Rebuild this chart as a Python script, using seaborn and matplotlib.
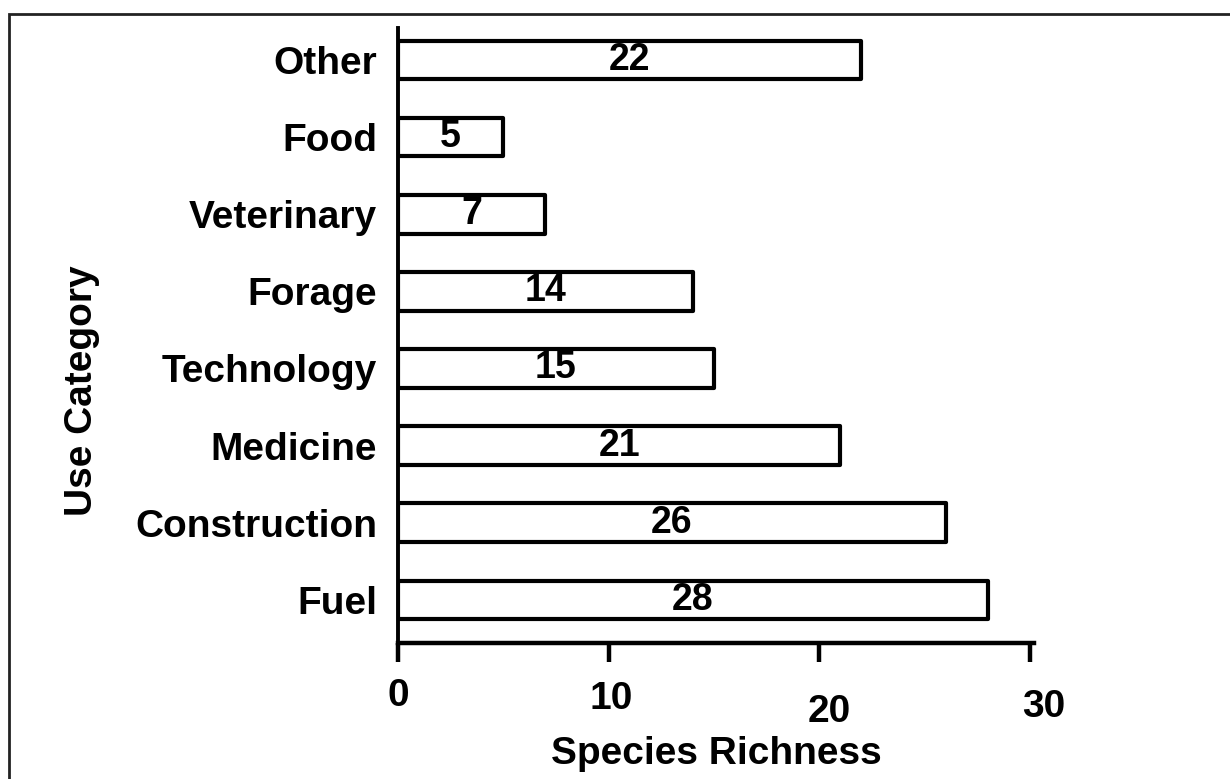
import pandas as pd
import seaborn as sns
import matplotlib.pyplot as plt
from matplotlib.patches import Rectangle
from matplotlib.transforms import ScaledTranslation

# data (top to bottom as in the chart)
categories = ["Other", "Food", "Veterinary", "Forage", "Technology", "Medicine", "Construction", "Fuel"]
species_richness = [22, 5, 7, 14, 15, 21, 26, 28]
x_ticks = [0, 10, 20, 30]
x_tick_labels = ["0", "10", "20", "30"]

df = pd.DataFrame({"Use Category": categories, "Species Richness": species_richness})

sns.set_style("ticks")
plt.rcParams["font.family"] = ["Liberation Sans", "DejaVu Sans"]
plt.rcParams["font.weight"] = "bold"
for key in ["text.color", "axes.labelcolor", "xtick.color", "ytick.color", "axes.edgecolor"]:
    plt.rcParams[key] = "black"

fig = plt.figure(figsize=(12.3, 7.79), dpi=100)
ax = fig.add_axes([398 / 1230, 1 - 643 / 779, (1034 - 398) / 1230, (643 - 28) / 779])

sns.barplot(
    data=df, x="Species Richness", y="Use Category", order=categories,
    color="white", edgecolor="black", linewidth=3, width=0.5, ax=ax,
)
for bar in ax.patches:
    bar.set_joinstyle("round")

# value labels inside bars
ax.bar_label(ax.containers[0], labels=[str(v) for v in species_richness],
             label_type="center", fontsize=27, fontweight="bold")

ax.set_xlim(0, 30.2)
ax.set_ylim(7.56, -0.415)
ax.set_xticks(x_ticks)
ax.set_xticklabels(x_tick_labels, fontsize=28, fontweight="bold")
ax.tick_params(axis="x", length=14, width=3.2, pad=11)
ax.tick_params(axis="y", length=0, pad=15, labelsize=28)
for lab in ax.get_yticklabels():
    lab.set_fontweight("bold")

# the staggered tick label positions of the original (pixels)
nudges = [(0, 0), (3, -3), (10, -16), (14, -11)]
for lab, (dx, dy) in zip(ax.get_xticklabels(), nudges):
    lab.set_transform(lab.get_transform() + ScaledTranslation(dx / 100, dy / 100, fig.dpi_scale_trans))

ax.set_xlabel("Species Richness", fontsize=28, fontweight="bold", va="top")
ax.xaxis.set_label_coords(0.5, -0.152)
ax.set_ylabel("Use Category", fontsize=28, fontweight="bold")
ax.yaxis.set_label_coords(-0.469, 0.41)

for side in ["top", "right"]:
    ax.spines[side].set_visible(False)
ax.spines["left"].set_linewidth(2.8)
ax.spines["bottom"].set_linewidth(3.2)

# frame around the whole figure
fig.patches.append(Rectangle((8.5 / 1230, -0.05), 1.1, 1.05 - 14 / 779,
                             transform=fig.transFigure, fill=False,
                             edgecolor="#222222", linewidth=2))

fig.savefig("out.png", dpi=100)
